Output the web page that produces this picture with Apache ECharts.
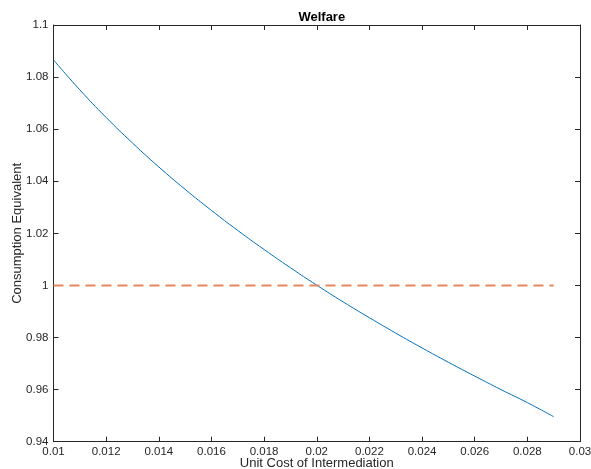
<!DOCTYPE html>
<html>
<head>
<meta charset="utf-8">
<script src="https://cdn.jsdelivr.net/npm/echarts@6/dist/echarts.min.js"></script>
<style>html,body{margin:0;padding:0;background:#fff;}#c{width:591px;height:469px;}</style>
</head>
<body>
<div id="c"></div>
<script>
var costs = [0.010,0.011,0.012,0.013,0.014,0.015,0.016,0.017,0.018,0.019,0.020,0.021,0.022,0.023,0.024,0.025,0.026,0.027,0.028,0.029];
var welfare = [1.0866,1.0751,1.0645,1.0547,1.0455,1.0369,1.0288,1.0211,1.0138,1.0068,1.0001,0.9937,0.9876,0.9817,0.9760,0.9705,0.9652,0.9600,0.9550,0.9496];
var baseline = [1,1];
var baselineX = [0.010,0.029];
var xTickLabels = ['0.01','0.012','0.014','0.016','0.018','0.02','0.022','0.024','0.026','0.028','0.03'];
var yTickLabels = ['0.94','0.96','0.98','1','1.02','1.04','1.06','1.08','1.1'];

var ink = '#262626';
var font = 'Liberation Sans, Arial, Helvetica, sans-serif';
function xfmt(v){ var i = Math.round((v-0.01)/0.002); return xTickLabels[i] !== undefined ? xTickLabels[i] : ''; }
function yfmt(v){ var i = Math.round((v-0.94)/0.02); return yTickLabels[i] !== undefined ? yTickLabels[i] : ''; }

var chart = echarts.init(document.getElementById('c'), null, {renderer:'canvas'});
var axisLine = {show:true, lineStyle:{color:ink, width:1}};
var tick = {show:true, inside:true, length:5, lineStyle:{color:ink, width:1}};
chart.setOption({
  animation:false,
  backgroundColor:'#fff',
  title:{text:'Welfare', left:316.8, top:6, textAlign:'center',
    textStyle:{fontFamily:font, fontSize:13, fontWeight:'bold', color:'#000'}},
  grid:{left:53.5, right:11, top:25, bottom:27.3, containLabel:false, outerBoundsMode:'none'},
  xAxis:[{
    type:'value', min:0.01, max:0.03, interval:0.002, position:'bottom',
    name:'Unit Cost of Intermediation', nameLocation:'middle', nameGap:15, nameMoveOverlap:false,
    nameTextStyle:{fontFamily:font, fontSize:13, color:ink, verticalAlign:'top'},
    axisLine:axisLine, axisTick:tick, splitLine:{show:false},
    axisLabel:{formatter:xfmt, fontFamily:font, fontSize:11.5, color:ink, margin:4}
  },{
    type:'value', min:0.01, max:0.03, interval:0.002, position:'top',
    axisLine:axisLine, axisTick:tick, splitLine:{show:false}, axisLabel:{show:false}
  }],
  yAxis:[{
    type:'value', min:0.94, max:1.1, interval:0.02, position:'left',
    name:'Consumption Equivalent', nameLocation:'middle', nameGap:30, nameRotate:90, nameMoveOverlap:false,
    nameTextStyle:{fontFamily:font, fontSize:13, color:ink},
    axisLine:axisLine, axisTick:tick, splitLine:{show:false},
    axisLabel:{formatter:yfmt, fontFamily:font, fontSize:11.5, color:ink, margin:5}
  },{
    type:'value', min:0.94, max:1.1, interval:0.02, position:'right',
    axisLine:axisLine, axisTick:tick, splitLine:{show:false}, axisLabel:{show:false}
  }],
  series:[{
    type:'line', xAxisIndex:0, yAxisIndex:0, showSymbol:false, smooth:true,
    data: costs.map(function(c,i){return [c, welfare[i]];}),
    lineStyle:{color:'#0072BD', width:1}
  },{
    type:'line', xAxisIndex:0, yAxisIndex:0, showSymbol:false,
    data: baselineX.map(function(c,i){return [c, baseline[i]];}),
    lineStyle:{color:'#E4895F', width:2, type:[10,6]}
  }]
});
</script>
</body>
</html>
